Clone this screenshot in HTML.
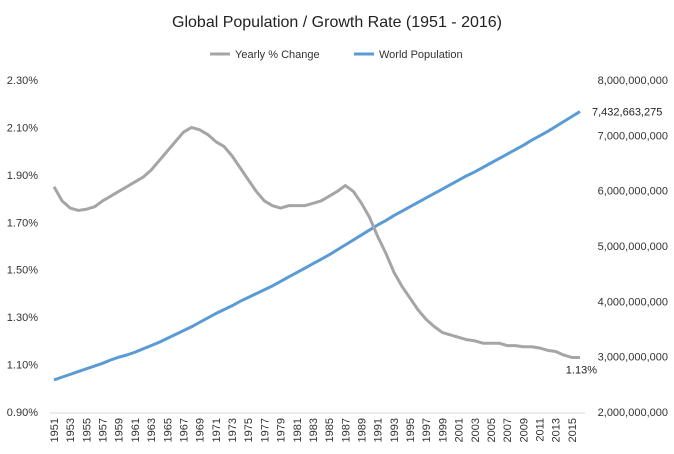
<!DOCTYPE html>
<html><head><meta charset="utf-8"><style>
body{margin:0;background:#fff;}
svg{display:block;font-family:"Liberation Sans",sans-serif;}
</style></head><body>
<svg id="chart" width="674" height="454" viewBox="0 0 674 454">
<text x="337" y="27" text-anchor="middle" font-size="16" fill="#222">Global Population / Growth Rate (1951 - 2016)</text>
<g>
<g><line x1="210" y1="54" x2="230" y2="54" stroke="#a5a5a5" stroke-width="3"/><text x="235" y="58" font-size="11" fill="#333">Yearly % Change</text></g>
<g><line x1="354" y1="54" x2="374" y2="54" stroke="#5b9bd5" stroke-width="3"/><text x="379" y="58" font-size="11" fill="#333">World Population</text></g>
</g>
<g id="axes"></g>
<g id="marks"></g>
</svg>
<script>
const years = [];
for (let y = 1951; y <= 2016; y++) years.push(y);
const growthRate = [1.85,1.79,1.76,1.75,1.755,1.765,1.79,1.81,1.83,1.85,
1.87,1.89,1.92,1.96,2.00,2.04,2.08,2.10,2.09,2.07,
2.04,2.02,1.98,1.93,1.88,1.83,1.79,1.77,1.76,1.77,
1.77,1.77,1.78,1.79,1.81,1.83,1.855,1.83,1.78,1.72,
1.64,1.57,1.49,1.43,1.38,1.33,1.29,1.26,1.235,1.225,
1.215,1.205,1.20,1.19,1.19,1.19,1.18,1.18,1.175,1.175,
1.17,1.16,1.155,1.14,1.13,1.13];
const population = [2.58,2.63,2.68,2.73,2.78,2.83,2.88,2.94,2.99,3.03,
3.08,3.14,3.20,3.26,3.33,3.40,3.47,3.54,3.62,3.70,
3.78,3.85,3.92,4.00,4.07,4.14,4.21,4.28,4.36,4.44,
4.52,4.60,4.68,4.76,4.84,4.93,5.02,5.11,5.20,5.29,
5.38,5.46,5.55,5.63,5.71,5.79,5.87,5.95,6.03,6.11,
6.19,6.27,6.34,6.42,6.50,6.58,6.66,6.74,6.82,6.91,
6.99,7.07,7.16,7.25,7.34,7.43];
const leftTicks = [0.9,1.1,1.3,1.5,1.7,1.9,2.1,2.3];
const rightTicks = [2,3,4,5,6,7,8];
const popLabel = "7,432,663,275";

const NS = "http://www.w3.org/2000/svg";
const plotTop = 80, plotBottom = 412, x0 = 54, x1 = 580;
const xs = i => x0 + (x1 - x0) * i / (years.length - 1);
const yL = v => plotBottom - (v - 0.9) / (2.3 - 0.9) * (plotBottom - plotTop);
const yR = v => plotBottom - (v - 2) / (8 - 2) * (plotBottom - plotTop);
function mk(tag, attrs, parent, text){
  const e = document.createElementNS(NS, tag);
  for (const k in attrs) e.setAttribute(k, attrs[k]);
  if (text !== undefined) e.textContent = text;
  parent.appendChild(e); return e;
}
const axes = document.getElementById('axes'), marks = document.getElementById('marks');
const base = mk('line', {x1:50, y1:plotBottom+1, x2:585, y2:plotBottom+1, stroke:'#d9d9d9', 'stroke-width':1}, axes);


leftTicks.forEach(v => {
  const t = mk('text', {x:38, y:yL(v)+4, 'text-anchor':'end', 'font-size':11, fill:'#333'}, axes, v.toFixed(2) + '%');
  
  
});
rightTicks.forEach(v => {
  const t = mk('text', {x:668, y:yR(v)+4, 'text-anchor':'end', 'font-size':11, fill:'#333'}, axes, v + ',000,000,000');
  
  
});
years.forEach((y, i) => {
  if (i % 2) return;
  const x = xs(i) + 4;
  const t = mk('text', {x:x, y:418, 'text-anchor':'end', 'font-size':11, fill:'#333', transform:'rotate(-90 ' + x + ' 418)'}, axes, String(y));
  
  
});
const pPop = mk('polyline', {points: population.map((v,i)=>xs(i)+','+yR(v)).join(' '), fill:'none', stroke:'#5b9bd5', 'stroke-width':3, 'stroke-linejoin':'round'}, marks);


const pGr = mk('polyline', {points: growthRate.map((v,i)=>xs(i)+','+yL(v)).join(' '), fill:'none', stroke:'#a5a5a5', 'stroke-width':3, 'stroke-linejoin':'round'}, marks);


const n = years.length - 1;
const l1 = mk('text', {x:xs(n)+12, y:yR(population[n])+4, 'font-size':11, fill:'#222'}, marks, popLabel);


const l2 = mk('text', {x:xs(n)+17, y:yL(growthRate[n])+16, 'text-anchor':'end', 'font-size':11, fill:'#222'}, marks, growthRate[n].toFixed(2) + '%');


</script>
</body></html>
